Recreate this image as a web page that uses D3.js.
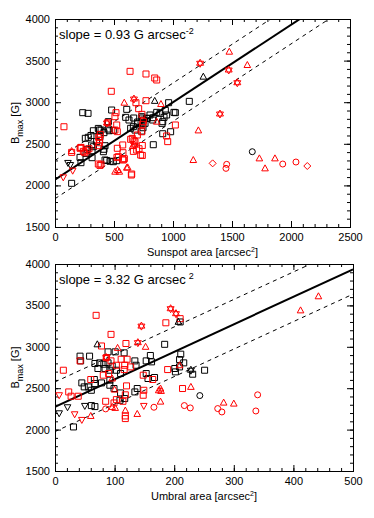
<!DOCTYPE html>
<html>
<head>
<meta charset="utf-8">
<script src="https://cdn.jsdelivr.net/npm/d3@7"></script>
<style>
body { margin: 0; background: #fff; }
text { font-family: "Liberation Sans", Arial, sans-serif; }
</style>
</head>
<body>
<div id="chart"></div>
<script>
// ---- data ----
// top panel: sunspot area [arcsec^2] vs Bmax [G]
var sunBlackSq = [[235,2874],[280,2866],[480,2906],[608,2914],[963,2994],[1138,3010],[1020,2874],[890,2866],[935,2902],
  [946,2846],[924,2818],[862,2878],[805,2846],[833,2814],[782,2806],[828,2786],[907,2746],[913,2766],[735,2826],
  [777,2806],[749,2786],[698,2746],[664,2706],[641,2686],[599,2818],[627,2786],[667,2810],[701,2762],[740,2810],
  [729,2746],[678,2665],[746,2693],[763,2746],[735,2653],[980,2645],[913,2621],[833,2489],[452,2766],[367,2685],
  [390,2665],[452,2677],[494,2661],[376,2666],[325,2657],[282,2578],[257,2566],[305,2600],[460,2657],[381,2586],
  [415,2634],[353,2526],[325,2465],[311,2485],[424,2477],[410,2405],[415,2434],[314,2417],[274,2434],[263,2385],
  [212,2337],[314,2333],[438,2300],[466,2290],[494,2285],[523,2297],[424,2305],[141,2025],[220,2273],[1008,2878]];
var sunRedSq = [[76,2705],[636,3371],[771,3339],[845,3291],[862,3267],[477,3131],[686,2994],[771,3018],[709,2922],
  [517,2874],[508,2826],[446,2753],[737,2854],[749,2766],[743,2734],[1020,2726],[946,2594],[955,2526],[523,2726],
  [528,2646],[574,2486],[528,2446],[537,2345],[574,2314],[647,2125],[735,2645],[698,2606],[669,2537],[641,2554],
  [692,2425],[726,2365],[508,2665],[384,2613],[379,2545],[367,2477],[370,2578],[376,2513],[218,2453],[252,2393],
  [220,2457],[271,2417],[288,2441],[240,2409],[212,2446],[141,2397],[655,2565],[678,2525],[740,2480],[664,2409],
  [712,2441],[740,2360],[576,2393],[525,2337],[588,2321],[367,2257],[381,2240],[390,2255],[579,2305],[650,2137]];
var sunRedTri = [[587,2994],[898,2978],[1477,3607],[1630,3447],[1215,2661],[1172,2305],[1732,2325],[1780,2205],
  [1864,2325],[862,2766],[608,2213],[509,2165],[531,2185],[545,2165],[616,2217],[141,2413],[658,2473]];
var sunBlackTri = [[1257,3307],[845,3016]];
var sunRedStar = [[1230,3468],[1472,3387],[1545,3234],[1398,2858],[669,3038],[672,2485],[440,2750]];
var sunBlackDown = [[110,2270],[130,2245]];
var sunRedDown = [[150,2177],[70,2097]];
var sunRedDiamond = [[1336,2265],[2138,2233]];
var sunRedCircle = [[1455,2253],[1449,2205],[1930,2257],[2042,2281]];
var sunBlackCircle = [[1672,2405]];

// bottom panel: umbral area [arcsec^2] vs Bmax [G]
var umbBlackSq = [[210,3300],[184,3030],[89,2939],[101,2939],[116,2927],[42,2887],[58,2887],[43,2830],[160,2895],
  [153,2830],[162,2818],[134,2830],[136,2777],[211,2911],[209,2846],[216,2806],[67,2798],[75,2806],[82,2790],
  [89,2806],[96,2766],[84,2738],[92,2717],[72,2738],[103,2717],[110,2677],[66,2605],[67,2556],[78,2564],[45,2564],
  [49,2516],[56,2516],[61,2475],[92,2597],[92,2536],[99,2496],[110,2443],[117,2375],[109,2354],[134,2455],
  [138,2496],[156,2617],[167,2629],[153,2677],[201,2738],[202,2697],[209,2757],[251,2717],[231,2669],[61,2290],
  [67,2278],[31,2032]];
var umbRedSq = [[210,3340],[69,3380],[186,3290],[94,3150],[119,3040],[78,3010],[86,2870],[94,2830],[111,2850],
  [121,2850],[42,2830],[14,2717],[103,2777],[117,2777],[116,2725],[81,2657],[90,2677],[127,2757],[148,2657],
  [164,2605],[189,2725],[60,2605],[23,2455],[27,2403],[39,2403],[85,2342],[103,2362],[114,2342],[120,2528],
  [118,2420],[99,2322],[118,2165],[118,2133],[149,2475],[148,2415],[214,2496]];
var umbRedTri = [[442,3610],[412,3440],[152,3000],[105,2987],[209,2777],[96,2617],[100,2483],[60,2165],[96,2274],
  [101,2262],[118,2230],[138,2189],[177,2338],[174,2475],[177,2496],[178,2467],[228,2516],[283,2326],[300,2314]];
var umbBlackTri = [[71,3030],[207,3302]];
var umbRedStar = [[194,3460],[203,3400],[145,3250],[139,3050],[86,2870]];
var umbBlackStar = [[228,2717]];
var umbBlackDown = [[7,2197],[21,2270],[50,2286]];
var umbRedDown = [[7,2415],[33,2185],[45,2117],[149,2286]];
var umbRedCircle = [[85,2250],[166,2270],[217,2290],[227,2262],[273,2254],[280,2213],[340,2420],[337,2225]];
var umbBlackCircle = [[243,2411]];

// fits
var sunFit = {slope: 0.93, icpt: 2070, band: 230};
var umbFit = {slope: 3.32, icpt: 2276, band: 300};

var bTicks = [1500, 2000, 2500, 3000, 3500, 4000];
var sunTicks = [0, 500, 1000, 1500, 2000, 2500];
var umbTicks = [0, 100, 200, 300, 400, 500];

var red = "#ff0000";

var svg = d3.select("#chart").append("svg")
  .attr("width", 374).attr("height", 518);

// marker paths, centred on 0,0
function markerPath(kind) {
  if (kind == "sq") return "M-3,-3H3V3H-3Z";
  if (kind == "tri") return "M0,-3.5L3.3,2.5L-3.3,2.5Z";
  if (kind == "down") return "M0,3.5L3.3,-2.5L-3.3,-2.5Z";
  if (kind == "dia") return "M0,-3.5L3.5,0L0,3.5L-3.5,0Z";
  if (kind == "circ") return "M3,0A3,3 0 1,1 -3,0A3,3 0 1,1 3,0Z";
  if (kind == "star") return "M0,-4L3.5,2L-3.5,2Z M0,4L3.5,-2L-3.5,-2Z";
  return "";
}

function drawPanel(cfg) {
  var x = d3.scaleLinear().domain(cfg.xDomain).range([cfg.left, cfg.right]);
  var y = d3.scaleLinear().domain([1500, 4000]).range([cfg.bottom, cfg.top]);
  var g = svg.append("g");

  // clip for lines
  var clipId = "clip" + cfg.id;
  g.append("clipPath").attr("id", clipId).append("rect")
    .attr("x", cfg.left).attr("y", cfg.top)
    .attr("width", cfg.right - cfg.left).attr("height", cfg.bottom - cfg.top);

  // minor ticks
  var xMinor = d3.range(cfg.xDomain[0], cfg.xDomain[1] + 1e-9, cfg.xMinorStep);
  var yMinor = d3.range(1500, 4001, 100);

  g.append("g").attr("transform", "translate(0," + cfg.bottom + ")")
    .call(d3.axisBottom(x).tickValues(xMinor).tickSize(-3).tickFormat(""));
  g.append("g").attr("transform", "translate(0," + cfg.top + ")")
    .call(d3.axisTop(x).tickValues(xMinor).tickSize(-3).tickFormat(""));
  g.append("g").attr("transform", "translate(" + cfg.left + ",0)")
    .call(d3.axisLeft(y).tickValues(yMinor).tickSize(-3).tickFormat(""));
  g.append("g").attr("transform", "translate(" + cfg.right + ",0)")
    .call(d3.axisRight(y).tickValues(yMinor).tickSize(-3).tickFormat(""));

  // major ticks + labels
  g.append("g").attr("transform", "translate(0," + cfg.bottom + ")")
    .call(d3.axisBottom(x).tickValues(cfg.xTicks).tickSize(-6).tickPadding(6).tickFormat(d3.format("d")));
  g.append("g").attr("transform", "translate(0," + cfg.top + ")")
    .call(d3.axisTop(x).tickValues(cfg.xTicks).tickSize(-6).tickFormat(""));
  g.append("g").attr("transform", "translate(" + cfg.left + ",0)")
    .call(d3.axisLeft(y).tickValues(bTicks).tickSize(-6).tickPadding(5).tickFormat(d3.format("d")));
  g.append("g").attr("transform", "translate(" + cfg.right + ",0)")
    .call(d3.axisRight(y).tickValues(bTicks).tickSize(-6).tickFormat(""));

  g.selectAll(".domain").attr("stroke", "#000").attr("stroke-width", 1);
  g.selectAll(".tick line").attr("stroke", "#000");
  g.selectAll(".tick text").attr("font-size", 11).attr("fill", "#000")
    .attr("font-family", "'Liberation Sans', Arial, sans-serif");

  // fit lines
  var lines = g.append("g").attr("clip-path", "url(#" + clipId + ")");
  var fit = cfg.fit;
  var x0 = cfg.xDomain[0], x1 = cfg.xDomain[1];
  [[0, 2, null], [fit.band, 1, "4,4"], [-fit.band, 1, "4,4"]].forEach(function(o) {
    lines.append("line")
      .attr("x1", x(x0)).attr("y1", y(fit.icpt + o[0] + fit.slope * x0))
      .attr("x2", x(x1)).attr("y2", y(fit.icpt + o[0] + fit.slope * x1))
      .attr("stroke", "#000").attr("stroke-width", o[1])
      .attr("stroke-dasharray", o[2]);
  });

  // points
  var pts = g.append("g").attr("clip-path", "url(#" + clipId + ")");
  cfg.series.forEach(function(s) {
    pts.selectAll(null).data(s.data).enter().append("path")
      .attr("d", markerPath(s.kind))
      .attr("transform", function(d) { return "translate(" + x(d[0]) + "," + y(d[1]) + ")"; })
      .attr("fill", "none")
      .attr("stroke", s.color)
      .attr("stroke-width", 1);
  });

  // slope label
  var st = g.append("text").attr("x", cfg.left + 4).attr("y", cfg.top + 20)
    .attr("font-size", 13).text(cfg.slopeText);
  st.append("tspan").attr("dy", -5).attr("dx", cfg.supDx).attr("font-size", 9).text(cfg.slopeSup);

  // x title
  var xt = g.append("text").attr("x", (cfg.left + cfg.right) / 2).attr("y", cfg.bottom + 29)
    .attr("text-anchor", "middle").attr("font-size", 11).text(cfg.xTitle);
  xt.append("tspan").attr("dy", -4).attr("font-size", 7).text("2");
  xt.append("tspan").attr("dy", 4).text("]");

  // y title
  var cy = (cfg.top + cfg.bottom) / 2;
  var yt = g.append("text").attr("transform", "translate(19," + cy + ") rotate(-90)")
    .attr("text-anchor", "middle").attr("font-size", 11).text("B");
  yt.append("tspan").attr("dy", 4).attr("font-size", 9).text("max");
  yt.append("tspan").attr("dy", -4).text(" [G]");
}

drawPanel({
  id: 1, left: 55, right: 350, top: 19, bottom: 227,
  xDomain: [0, 2500], xTicks: sunTicks, xMinorStep: 100,
  fit: sunFit, slopeText: "slope = 0.93 G arcsec", slopeSup: "-2", supDx: 0,
  xTitle: "Sunspot area [arcsec",
  series: [
    {data: sunBlackSq, kind: "sq", color: "#000"},
    {data: sunRedSq, kind: "sq", color: red},
    {data: sunRedTri, kind: "tri", color: red},
    {data: sunBlackTri, kind: "tri", color: "#000"},
    {data: sunRedStar, kind: "star", color: red},
    {data: sunBlackDown, kind: "down", color: "#000"},
    {data: sunRedDown, kind: "down", color: red},
    {data: sunRedDiamond, kind: "dia", color: red},
    {data: sunRedCircle, kind: "circ", color: red},
    {data: sunBlackCircle, kind: "circ", color: "#000"}
  ]
});

drawPanel({
  id: 2, left: 55, right: 353, top: 264, bottom: 471,
  xDomain: [0, 500], xTicks: umbTicks, xMinorStep: 20,
  fit: umbFit, slopeText: "slope = 3.32 G arcsec", slopeSup: "2", supDx: 3,
  xTitle: "Umbral area [arcsec",
  series: [
    {data: umbBlackSq, kind: "sq", color: "#000"},
    {data: umbRedSq, kind: "sq", color: red},
    {data: umbRedTri, kind: "tri", color: red},
    {data: umbBlackTri, kind: "tri", color: "#000"},
    {data: umbRedStar, kind: "star", color: red},
    {data: umbBlackStar, kind: "star", color: "#000"},
    {data: umbBlackDown, kind: "down", color: "#000"},
    {data: umbRedDown, kind: "down", color: red},
    {data: umbRedCircle, kind: "circ", color: red},
    {data: umbBlackCircle, kind: "circ", color: "#000"}
  ]
});
</script>
</body>
</html>
